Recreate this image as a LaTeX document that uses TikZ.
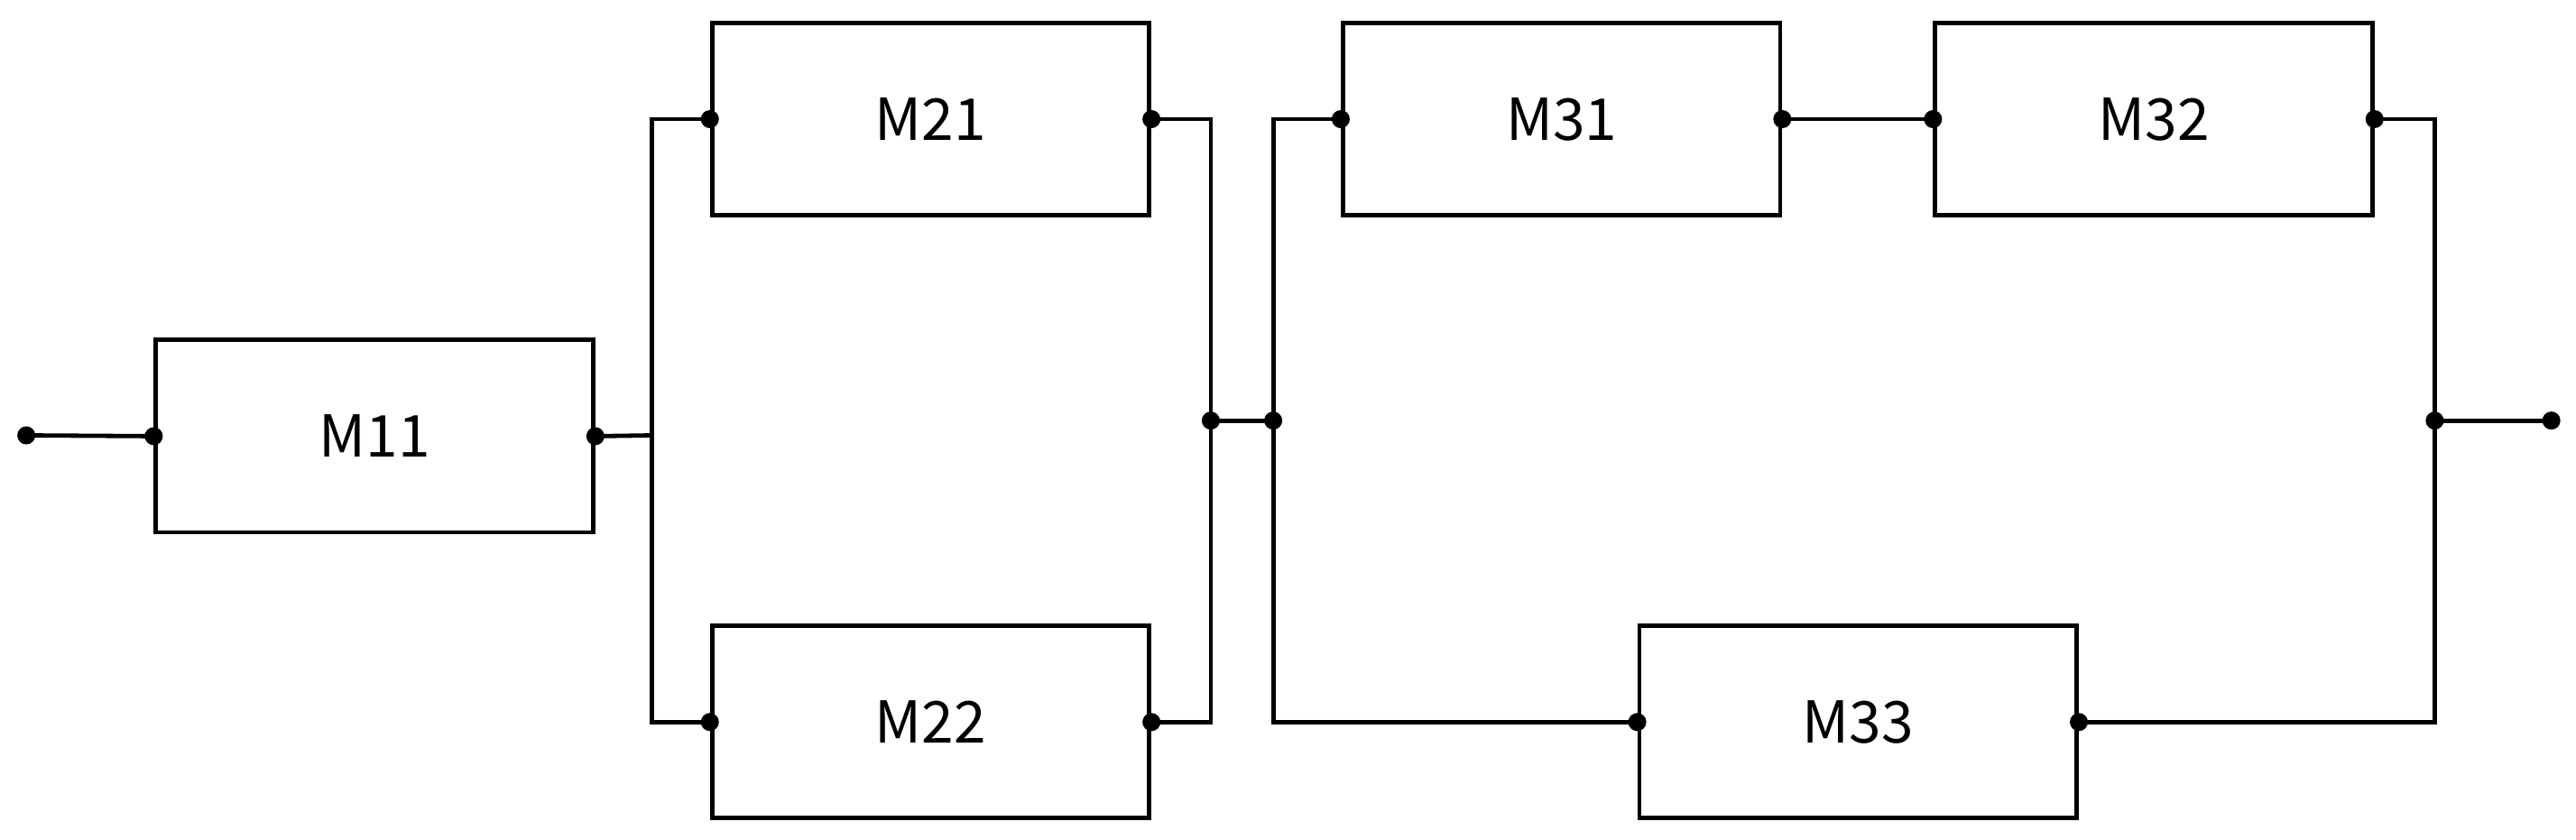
\documentclass[tikz,border=0pt]{standalone}
\usepackage{fontspec}
\setmainfont{Noto Sans CJK SC}
\begin{document}
\begin{tikzpicture}[x=0.01cm,y=-0.01cm,line width=0.75pt,
  blk/.style={draw,minimum width=2.66cm,minimum height=1.17cm,inner sep=0pt,font=\fontsize{10}{12}\selectfont},
  dot/.style={circle,fill,inner sep=0pt,minimum size=0.11cm}]
\useasboundingbox (0,0) rectangle (1568,511);
\node[blk] (m11) at (228,265.5) {M11};
\node[blk] (m21) at (566.5,72.5) {M21};
\node[blk] (m22) at (566.5,439.5) {M22};
\node[blk] (m31) at (950.5,72.5) {M31};
\node[blk] (m32) at (1311,72.5) {M32};
\node[blk] (m33) at (1131,439.5) {M33};
\node[dot] (s) at (16,265) {};
\node[dot] (e) at (1553,256) {};
\node[dot] (j2) at (737,256) {};
\node[dot] (j3) at (775,256) {};
\node[dot] (j4) at (1482,256) {};
\coordinate (j1) at (397,265);
\foreach \n in {m11,m21,m22,m31,m32,m33}{
  \node[dot] (\n l) at (\n.west) {};
  \node[dot] (\n r) at (\n.east) {};
}
\draw (s.center) -- (m11l.center);
\draw (m11r.center) -- (j1);
\draw (m21l.center) -| (j1) |- (m22l.center);
\draw (m21r.center) -| (j2.center) |- (m22r.center);
\draw (j2.center) -- (j3.center);
\draw (m31l.center) -| (j3.center) |- (m33l.center);
\draw (m31r.center) -- (m32l.center);
\draw (m32r.center) -| (j4.center) |- (m33r.center);
\draw (j4.center) -- (e.center);
\end{tikzpicture}
\end{document}
